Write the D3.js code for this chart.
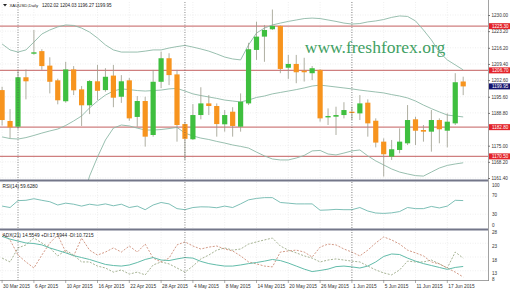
<!DOCTYPE html>
<html><head><meta charset="utf-8">
<script src="https://cdn.jsdelivr.net/npm/d3@7"></script>
<style>
body{margin:0;background:#fff}
svg{display:block}
text{font-family:Arial,"Liberation Sans",sans-serif}
</style>
</head><body>
<svg id="c" width="510" height="290"></svg>
<script>
// ---------- DATA ----------
const dates = ["2015-03-30","2015-03-31","2015-04-01","2015-04-02","2015-04-06","2015-04-07","2015-04-08","2015-04-09","2015-04-10","2015-04-13","2015-04-14","2015-04-15","2015-04-16","2015-04-17","2015-04-20","2015-04-21","2015-04-22","2015-04-23","2015-04-24","2015-04-27","2015-04-28","2015-04-29","2015-04-30","2015-05-01","2015-05-04","2015-05-05","2015-05-06","2015-05-07","2015-05-08","2015-05-11","2015-05-12","2015-05-13","2015-05-14","2015-05-15","2015-05-18","2015-05-19","2015-05-20","2015-05-21","2015-05-22","2015-05-25","2015-05-26","2015-05-27","2015-05-28","2015-05-29","2015-06-01","2015-06-02","2015-06-03","2015-06-04","2015-06-05","2015-06-08","2015-06-09","2015-06-10","2015-06-11","2015-06-12","2015-06-15","2015-06-16","2015-06-17","2015-06-18","2015-06-19"];
const openP  = [1198.4,1185.4,1183.0,1203.8,1213.7,1214.8,1208.7,1202.5,1193.7,1207.1,1198.7,1192.0,1202.1,1198.4,1204.5,1195.6,1202.5,1187.1,1193.8,1179.5,1201.9,1211.8,1205.0,1184.1,1177.7,1187.9,1192.8,1191.7,1184.0,1189.3,1183.0,1192.8,1215.3,1220.9,1224.0,1225.4,1207.8,1209.4,1206.6,1205.5,1206.9,1186.9,1187.2,1187.9,1189.3,1188.6,1193.1,1185.5,1176.7,1170.4,1173.2,1176.0,1186.1,1181.6,1180.9,1185.8,1181.3,1184.4,1202.02];
const highP  = [1199.8,1190.4,1206.9,1207.1,1223.7,1215.6,1212.2,1203.2,1210.3,1208.5,1200.1,1202.6,1209.0,1207.6,1209.0,1204.7,1203.5,1195.9,1195.6,1206.9,1214.6,1213.9,1206.9,1185.1,1192.5,1199.6,1196.3,1192.8,1190.0,1191.2,1197.0,1218.3,1227.2,1225.8,1232.3,1225.6,1213.2,1213.2,1212.0,1208.5,1207.2,1190.7,1191.4,1193.3,1191.4,1196.3,1194.5,1186.5,1178.1,1177.4,1182.3,1192.1,1187.2,1183.7,1190.0,1186.5,1188.6,1205.5,1204.03];
const lowP   = [1183.5,1178.2,1182.0,1194.5,1213.3,1206.9,1197.0,1192.4,1193.1,1196.3,1183.3,1188.3,1194.2,1197.7,1191.2,1193.0,1185.5,1183.0,1174.6,1178.8,1199.2,1200.5,1176.7,1169.0,1177.4,1186.1,1187.9,1178.8,1180.9,1178.8,1180.9,1192.1,1211.1,1210.3,1223.7,1205.5,1203.1,1201.3,1202.0,1202.6,1185.1,1183.7,1179.5,1186.5,1185.8,1185.8,1178.8,1174.3,1162.0,1169.0,1171.8,1175.3,1175.3,1176.7,1172.5,1176.0,1174.3,1183.7,1196.27];
const closeP = [1185.8,1182.7,1203.8,1202.1,1214.3,1208.5,1201.9,1194.1,1207.1,1198.3,1192.0,1202.2,1198.1,1204.0,1195.2,1202.1,1186.5,1193.8,1178.8,1201.9,1211.8,1204.7,1183.7,1177.9,1187.9,1192.8,1191.7,1184.1,1187.9,1183.3,1193.5,1215.6,1220.9,1223.7,1225.4,1207.3,1209.4,1205.9,1205.9,1207.6,1186.5,1187.5,1187.9,1190.0,1188.9,1192.8,1184.4,1176.3,1171.4,1173.5,1176.7,1185.8,1181.3,1180.9,1185.8,1181.9,1185.1,1201.7,1199.95];

const bbUpper  = [1217.8,1215.3,1214.4,1215.3,1218.6,1222.0,1223.7,1225.0,1225.8,1225.6,1224.5,1222.8,1220.3,1217.4,1215.3,1214.4,1214.4,1214.4,1214.8,1215.3,1215.3,1216.1,1216.7,1217.2,1216.5,1215.7,1214.8,1213.6,1212.3,1211.5,1211.1,1217.4,1222.4,1224.5,1225.8,1226.6,1227.3,1227.9,1228.5,1228.7,1228.5,1227.9,1227.3,1226.6,1226.2,1226.4,1227.1,1227.5,1228.1,1229.0,1229.6,1229.4,1227.5,1223.7,1219.5,1214.4,1211.1,1209.0,1206.9];
const bbMiddle = [1178.7,1178.0,1177.8,1178.4,1179.3,1180.3,1181.2,1182.0,1183.5,1185.4,1187.5,1190.9,1193.8,1196.3,1198.0,1198.9,1198.6,1198.2,1198.0,1198.2,1198.4,1198.9,1199.1,1198.0,1196.8,1196.1,1195.5,1194.9,1194.2,1193.8,1193.4,1194.2,1195.3,1195.9,1196.8,1197.4,1198.0,1198.6,1199.3,1200.1,1200.5,1200.1,1199.7,1199.3,1198.9,1198.4,1198.0,1197.6,1197.2,1196.5,1195.9,1195.1,1193.8,1192.1,1190.6,1189.2,1187.9,1187.5,1187.1];
const bbLower  = [1139.5,1140.8,1141.2,1141.6,1139.9,1138.7,1138.7,1139.1,1141.2,1145.2,1150.5,1162.2,1170.2,1177.4,1182.4,1183.7,1183.3,1182.4,1181.6,1181.6,1181.8,1182.2,1182.7,1180.3,1179.1,1178.2,1177.6,1176.8,1176.1,1175.3,1174.7,1174.0,1172.3,1170.7,1169.4,1169.0,1169.0,1169.8,1170.9,1172.8,1173.0,1171.5,1171.1,1171.9,1172.8,1173.2,1170.7,1168.6,1166.9,1165.2,1163.9,1163.1,1162.4,1162.2,1163.9,1165.6,1166.7,1167.3,1167.8];

const rsi = [47.6,44.5,59.5,60.2,63.6,60.2,57.1,50.0,54.0,51.7,47.6,51.7,49.3,52.4,48.3,51.7,44.5,47.6,39.8,50.0,55.5,52.4,42.1,39.8,44.5,46.0,45.7,44.0,47.6,44.5,52.4,61.2,64.3,66.0,66.0,55.5,54.0,52.4,52.4,52.4,38.6,39.3,40.5,39.8,39.8,44.5,36.9,32.6,31.7,32.9,35.7,44.5,42.1,42.1,46.9,43.6,47.6,60.2,59.628];

const adx    = [25.5,24.5,23.8,23.1,22.9,22.4,21.3,20.4,19.5,18.5,17.8,17.1,16.2,15.3,14.9,14.7,15.1,16.0,17.1,17.8,16.9,16.7,17.3,17.8,17.6,16.4,15.6,15.1,14.7,14.7,15.1,15.6,16.0,16.5,17.1,16.7,15.8,14.7,13.6,12.7,13.1,13.6,14.5,14.7,14.4,14.0,14.7,16.2,18.2,19.1,18.9,17.6,16.5,15.6,14.9,14.2,13.5,14.2,14.5549];
const plusDI = [17.6,16.2,21.3,22.4,24.9,23.1,21.3,18.4,20.5,18.7,16.2,16.2,14.7,14.0,12.5,13.3,11.8,12.5,11.5,15.1,16.2,15.5,14.0,12.5,14.7,17.3,18.7,20.5,21.3,20.5,20.9,22.7,23.5,24.2,24.9,22.0,20.5,19.5,18.4,17.6,16.2,16.9,17.3,16.9,16.5,16.2,14.7,13.3,12.2,11.5,13.3,16.5,16.2,16.2,16.9,15.5,14.0,19.8,17.5944];
const minusDI= [26.4,24.2,18.7,16.2,14.0,18.7,23.1,26.0,19.8,18.4,24.9,20.5,18.7,19.8,21.3,19.8,22.0,19.8,22.7,17.6,16.2,17.6,22.4,23.5,22.0,20.9,21.6,22.0,20.9,20.2,18.4,16.2,15.5,14.7,14.4,19.8,20.2,20.5,19.8,18.0,21.6,22.7,22.4,20.9,19.8,18.4,20.5,23.1,25.3,24.2,22.7,20.5,19.5,18.4,16.2,15.5,14.0,12.5,10.7215];

const priceTicks = [1230.00,1223.20,1216.20,1209.40,1202.60,1195.60,1188.80,1175.00,1168.20,1161.40];
const levelLines = [1225.30,1206.70,1182.80,1170.50];
const lastPrice = 1199.95;
const rsiTicks = [100,70,30,0];
const adxTicks = [28,23,18,13,8];
const dateTicks = ["2015-03-30","2015-04-06","2015-04-10","2015-04-16","2015-04-22","2015-04-28","2015-05-04","2015-05-08","2015-05-14","2015-05-20","2015-05-26","2015-06-01","2015-06-05","2015-06-11","2015-06-17"];
const monthSeps = ["2015-04-01","2015-05-01","2015-06-01"];
const titleMain = "XAUUSD,Daily";
const titleOHLC = "1202.02 1204.03 1196.27 1199.95";
const titleRSI = "RSI(14) 59.6280";
const titleADX = "ADX(21) 14.5549 +DI:17.5944 -DI:10.7215";
const watermark = "www.freshforex.org";

// ---------- LAYOUT ----------
const svg = d3.select("#c");
const XR = 488;
const P = {top:2, bottom:180};
const R = {top:182, bottom:228};
const A = {top:231, bottom:280};

const x = d3.scalePoint().domain(dates).range([2.1, 463.2]);
const yP = d3.scaleLinear().domain([1161.4,1230]).range([178,15]);
const yR = d3.scaleLinear().domain([0,100]).range([228,182]);
const yA = d3.scaleLinear().domain([18,23]).range([257,243.25]);
const fmtDate = d3.timeFormat("%-d %b %Y");
const parse = d3.timeParse("%Y-%m-%d");

const defs = svg.append("defs");
[["cp",P],["cr",R],["ca",A]].forEach(([id,p])=>{
  defs.append("clipPath").attr("id",id).append("rect")
    .attr("x",0).attr("y",p.top).attr("width",XR).attr("height",p.bottom-p.top);
});

// grid
const grid = svg.append("g").attr("stroke","#e4e4e4").attr("stroke-width",0.6).attr("stroke-dasharray","1,1.5");
dateTicks.forEach(d=>{
  grid.append("line").attr("x1",x(d)).attr("x2",x(d)).attr("y1",P.top).attr("y2",A.bottom);
});
priceTicks.forEach(v=>{
  grid.append("line").attr("x1",0).attr("x2",XR).attr("y1",yP(v)).attr("y2",yP(v));
});
[70,30].forEach(v=>grid.append("line").attr("x1",0).attr("x2",XR).attr("y1",yR(v)).attr("y2",yR(v)));
[23,18,13].forEach(v=>grid.append("line").attr("x1",0).attr("x2",XR).attr("y1",yA(v)).attr("y2",yA(v)));

// watermark
svg.append("text").attr("x",375).attr("y",53).attr("text-anchor","middle")
  .style("font-family","'Liberation Serif','DejaVu Serif',serif").style("font-size","17.5px")
  .attr("fill","#3f9f63").text(watermark);

// level lines
const gm = svg.append("g").attr("clip-path","url(#cp)");
levelLines.forEach(v=>{
  gm.append("line").attr("x1",0).attr("x2",XR).attr("y1",yP(v)).attr("y2",yP(v))
    .attr("stroke","#cf7f7f").attr("stroke-width",1.1);
});

// bollinger
const bbLine = arr => d3.line().x((d,i)=>x(dates[i])).y(d=>yP(d))(arr);
[bbUpper,bbMiddle,bbLower].forEach(arr=>{
  gm.append("path").attr("d",bbLine(arr)).attr("fill","none")
    .attr("stroke","#8db8a6").attr("stroke-width",0.9);
});

// candles
const cg = gm.append("g");
dates.forEach((d,i)=>{
  const o=openP[i],c=closeP[i],h=highP[i],l=lowP[i];
  const up = c>=o;
  const col = up ? "#3fbf3f" : "#f7941e";
  cg.append("line").attr("x1",x(d)).attr("x2",x(d)).attr("y1",yP(h)).attr("y2",yP(l))
    .attr("stroke","#9a9a8a").attr("stroke-width",0.8);
  const yt = yP(Math.max(o,c)), yb = yP(Math.min(o,c));
  cg.append("rect").attr("x",x(d)-2.6).attr("width",5.2)
    .attr("y",yt).attr("height",Math.max(1.3,yb-yt)).attr("fill",col);
});

// RSI
const gr = svg.append("g").attr("clip-path","url(#cr)");
gr.append("path").attr("d",d3.line().x((d,i)=>x(dates[i])).y(d=>yR(d))(rsi))
  .attr("fill","none").attr("stroke","#6fb8ae").attr("stroke-width",0.9);

// ADX
const ga = svg.append("g").attr("clip-path","url(#ca)");
const aLine = arr => d3.line().x((d,i)=>x(dates[i])).y(d=>yA(d))(arr);
ga.append("path").attr("d",aLine(plusDI)).attr("fill","none").attr("stroke","#8f9f78").attr("stroke-width",0.8).attr("stroke-dasharray","2,1.5");
ga.append("path").attr("d",aLine(minusDI)).attr("fill","none").attr("stroke","#c88068").attr("stroke-width",0.8).attr("stroke-dasharray","2,1.5");
ga.append("path").attr("d",aLine(adx)).attr("fill","none").attr("stroke","#62bcaa").attr("stroke-width",1);

// month separators
monthSeps.forEach(d=>{
  svg.append("line").attr("x1",x(d)).attr("x2",x(d)).attr("y1",P.top).attr("y2",A.bottom+2)
    .attr("stroke","#555").attr("stroke-width",0.7).attr("stroke-dasharray","1,1.5");
});

// panel separators and frame
[P.bottom+0.5, R.bottom+1.5].forEach(y=>{
  svg.append("line").attr("x1",0).attr("x2",XR).attr("y1",y).attr("y2",y)
    .attr("stroke","#737689").attr("stroke-width",2);
});
svg.append("line").attr("x1",0).attr("x2",XR+1).attr("y1",A.bottom+0.5).attr("y2",A.bottom+0.5)
  .attr("stroke","#8a8a8a").attr("stroke-width",0.8);
svg.append("line").attr("x1",XR+0.5).attr("x2",XR+0.5).attr("y1",0).attr("y2",A.bottom+1)
  .attr("stroke","#8a8a8a").attr("stroke-width",0.8);

// price axis
const pa = svg.append("g").attr("transform",`translate(${XR},0)`)
  .call(d3.axisRight(yP).tickValues(priceTicks).tickFormat(d3.format(".2f")).tickSize(2).tickPadding(1.5));
pa.select(".domain").remove();
pa.selectAll("line").attr("stroke","#777");
pa.selectAll("text").style("font-size","4.6px").attr("fill","#333");

// level labels
levelLines.forEach(v=>{
  svg.append("rect").attr("x",XR+1).attr("y",yP(v)-3).attr("width",22).attr("height",6).attr("fill","#e3242b");
  svg.append("text").attr("x",XR+4).attr("y",yP(v)+1.6).style("font-size","4.6px").attr("fill","#fff").text(d3.format(".2f")(v));
});
svg.append("rect").attr("x",XR+1).attr("y",yP(lastPrice)-3).attr("width",22).attr("height",6).attr("fill","#14146e");
svg.append("text").attr("x",XR+4).attr("y",yP(lastPrice)+1.6).style("font-size","4.6px").attr("fill","#fff").text(d3.format(".2f")(lastPrice));

// RSI axis labels
rsiTicks.forEach(v=>{
  const y = Math.min(Math.max(yR(v),185),225);
  svg.append("text").attr("x",XR+4).attr("y",y+1.6).style("font-size","4.6px").attr("fill","#333").text(v);
});
// ADX axis labels
adxTicks.forEach(v=>{
  const y = Math.min(Math.max(yA(v)+3,232.5),279);
  svg.append("text").attr("x",XR+4).attr("y",y+1.6).style("font-size","4.6px").attr("fill","#333").text(v);
});

// date axis
dateTicks.forEach(d=>{
  svg.append("line").attr("x1",x(d)).attr("x2",x(d)).attr("y1",A.bottom).attr("y2",A.bottom+3)
    .attr("stroke","#777").attr("stroke-width",0.6);
  svg.append("text").attr("x",x(d)+1).attr("y",287.5).style("font-size","4.8px").attr("fill","#333")
    .text(fmtDate(parse(d)));
});

// titles
svg.append("path").attr("d","M3,4 L7,4 L5,6.5 Z").attr("fill","#222");
svg.append("text").attr("x",9.5).attr("y",7).style("font-size","4.3px").attr("fill","#222").text(titleMain);
svg.append("text").attr("x",42).attr("y",7).style("font-size","4.6px").attr("fill","#222").text(titleOHLC);
svg.append("text").attr("x",2.5).attr("y",187.5).style("font-size","4.8px").attr("fill","#222").text(titleRSI);
svg.append("text").attr("x",2.5).attr("y",236.5).style("font-size","4.8px").attr("fill","#222").text(titleADX);
</script>
</body></html>
